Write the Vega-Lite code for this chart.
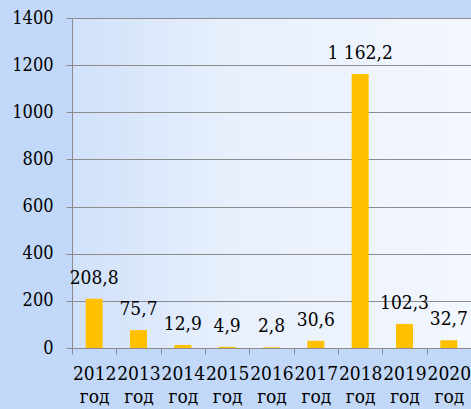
{
  "$schema": "https://vega.github.io/schema/vega-lite/v6.json",
  "width": 399,
  "height": 330,
  "autosize": "none",
  "padding": {"left": 72, "top": 18, "right": 0, "bottom": 61},
  "background": "#c2d8f9",
  "data": {
    "values": [
      {"year": "2012 год", "value": 208.8, "label": "208,8"},
      {"year": "2013 год", "value": 75.7, "label": "75,7"},
      {"year": "2014 год", "value": 12.9, "label": "12,9"},
      {"year": "2015 год", "value": 4.9, "label": "4,9"},
      {"year": "2016 год", "value": 2.8, "label": "2,8"},
      {"year": "2017 год", "value": 30.6, "label": "30,6"},
      {"year": "2018 год", "value": 1162.2, "label": "1 162,2"},
      {"year": "2019 год", "value": 102.3, "label": "102,3"},
      {"year": "2020 год", "value": 32.7, "label": "32,7"}
    ]
  },
  "encoding": {
    "x": {
      "field": "year",
      "type": "nominal",
      "sort": null,
      "scale": {"paddingInner": 0, "paddingOuter": 0},
      "axis": {
        "title": null,
        "labelAngle": 0,
        "labelExpr": "split(datum.label, ' ')",
        "labelFont": "DejaVu Serif Condensed",
        "labelFontSize": 19,
        "labelColor": "#000000",
        "labelLineHeight": 23,
        "labelPadding": 10,
        "tickBand": "extent",
        "tickSize": 6,
        "tickColor": "#8c8c8c",
        "domainColor": "#8c8c8c",
        "grid": false
      }
    },
    "y": {
      "field": "value",
      "type": "quantitative",
      "scale": {"domain": [0, 1400], "nice": false},
      "axis": {
        "title": null,
        "format": "d",
        "values": [0, 200, 400, 600, 800, 1000, 1200, 1400],
        "labelFont": "DejaVu Serif Condensed",
        "labelFontSize": 18,
        "labelColor": "#000000",
        "labelPadding": 13,
        "tickSize": 6,
        "tickColor": "#8c8c8c",
        "domainColor": "#8c8c8c",
        "gridColor": "#8c8c8c",
        "grid": true
      }
    }
  },
  "layer": [
    {"mark": {"type": "bar", "size": 17, "color": "#FFC000"}},
    {
      "mark": {"type": "text", "dy": -15, "baseline": "alphabetic", "font": "DejaVu Serif Condensed", "fontSize": 19, "color": "#000000"},
      "encoding": {"text": {"field": "label"}}
    }
  ],
  "config": {
    "view": {
      "stroke": null,
      "fill": {
        "gradient": "linear",
        "x1": 0, "y1": 0, "x2": 1, "y2": 0,
        "stops": [
          {"offset": 0, "color": "#d0e1fa"},
          {"offset": 0.4, "color": "#e8f0fc"},
          {"offset": 1, "color": "#f3f7fe"}
        ]
      }
    }
  }
}
